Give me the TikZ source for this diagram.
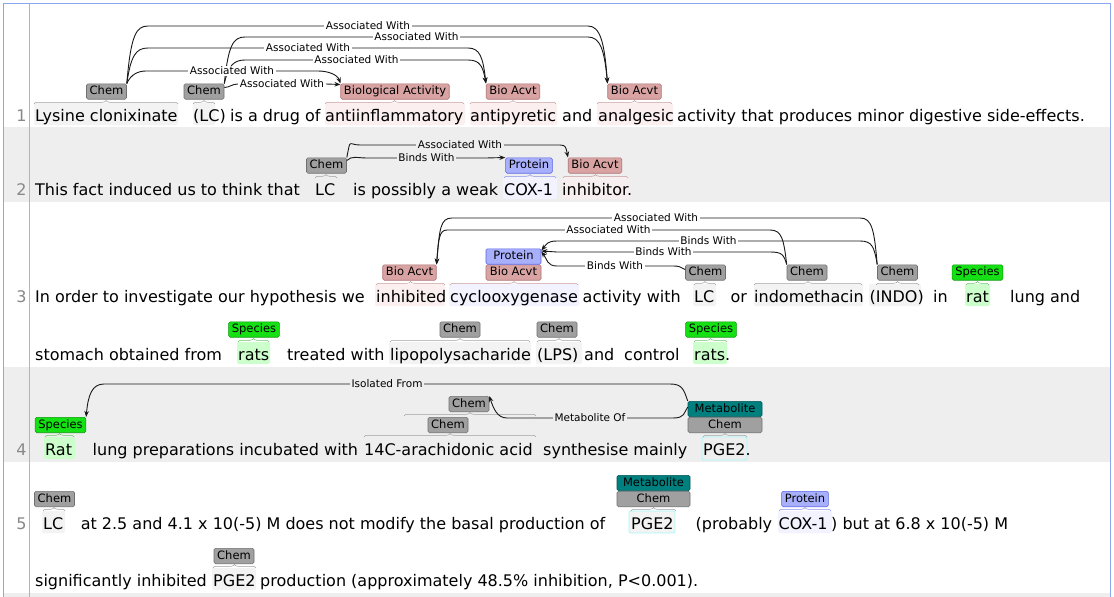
\documentclass[tikz,border=0pt]{standalone}
\usepackage{fontspec}
\setmainfont{DejaVu Sans}
\usetikzlibrary{arrows.meta,decorations.pathreplacing,positioning}

\definecolor{rowgray}{HTML}{EEEEEE}
\definecolor{framecol}{HTML}{8AA8F0}
\definecolor{sepcol}{HTML}{B4B4B4}
\definecolor{numgray}{HTML}{888888}
\definecolor{chemfill}{HTML}{A0A0A0}
\definecolor{chemline}{HTML}{707070}
\definecolor{biofill}{HTML}{D9A3A3}
\definecolor{bioline}{HTML}{B07070}
\definecolor{protfill}{HTML}{A8B0FC}
\definecolor{protline}{HTML}{5A64E6}
\definecolor{specfill}{HTML}{14E014}
\definecolor{specline}{HTML}{0A9A0A}
\definecolor{metfill}{HTML}{007F7F}
\definecolor{metline}{HTML}{005555}
\definecolor{hlchem}{HTML}{F3F3F3}
\definecolor{hlbio}{HTML}{FBEFEF}
\definecolor{hlprot}{HTML}{F2F3FF}
\definecolor{hlspec}{HTML}{CCFFCC}
\definecolor{hlmet}{HTML}{A8FAFA}

\begin{document}
\begin{tikzpicture}[x=1pt, y=-1pt,
    tok/.style={anchor=base west, inner sep=0pt, font=\fontsize{16}{19}\selectfont},
    num/.style={anchor=base, inner sep=0pt, text=numgray, font=\fontsize{16}{19}\selectfont},
    tag/.style={draw, rounded corners=1.5pt, anchor=south, inner xsep=3.2pt, inner ysep=2.2pt, text height=8.6pt, text depth=2.4pt, line width=0.6pt, font=\fontsize{11.5}{13}\selectfont},
    chem/.style={tag, fill=chemfill, draw=chemline},
    bio/.style={tag, fill=biofill, draw=bioline},
    prot/.style={tag, fill=protfill, draw=protline},
    spec/.style={tag, fill=specfill, draw=specline},
    metab/.style={tag, fill=metfill, draw=metline},
    rel/.style={draw=black!90, line width=0.9pt, -{Stealth[length=6pt,width=4.6pt]}},
    lbl/.style={fill=white, inner xsep=1.5pt, inner ysep=0.5pt, midway, font=\fontsize{10.5}{12}\selectfont},
    glbl/.style={lbl, fill=rowgray},
    crl/.style={decorate, decoration={brace, amplitude=3.5pt}, line width=0.5pt},
    span/.style={rounded corners=2pt}]

    \useasboundingbox (0,0) rectangle (1114,597);
    \fill[white] (0,0) rectangle (1114,597);

    % sentence rows
    \fill[rowgray] (3.5,127) rectangle (1110.5,202);
    \fill[rowgray] (3.5,367) rectangle (1110.5,462);
    \fill[rowgray] (3.5,593) rectangle (1110.5,597);
    \draw[framecol, line width=1pt] (3.5,597) -- (3.5,3.5) -- (1110.5,3.5) -- (1110.5,597);
    \draw[sepcol, line width=0.8pt] (29.5,3.5) -- (29.5,597);

    % span highlights
    \fill[span, hlchem] (34,103) rectangle (178,125);
    \fill[span, hlchem] (193,103) rectangle (215,125);
    \fill[span, hlbio] (325,103) rectangle (465,125);
    \fill[span, hlbio] (470,103) rectangle (557,125);
    \fill[span, hlbio] (597,103) rectangle (673,125);
    \fill[span, hlprot] (503,177) rectangle (557,199);
    \fill[span, hlbio!70!rowgray] (562,177) rectangle (629,199);
    \fill[span, hlbio] (375,284) rectangle (445,306);
    \fill[span, hlprot] (449,284) rectangle (579,306);
    \fill[span, hlchem] (693,284) rectangle (716,306);
    \fill[span, hlchem] (754,284) rectangle (863,306);
    \fill[span, hlchem] (869,284) rectangle (921,306);
    \fill[span, hlspec] (965,284) rectangle (990,306);
    \fill[span, hlspec] (237,342) rectangle (270,364);
    \fill[span, hlchem] (389,342) rectangle (531,364);
    \fill[span, hlchem] (536,342) rectangle (582,364);
    \fill[span, hlspec] (693,342) rectangle (727,364);
    \fill[span, hlspec] (44,437) rectangle (75,459);
    \filldraw[span, fill=rowgray, draw=hlmet, line width=0.8pt] (702,437) rectangle (747,460);
    \fill[span, hlchem] (42,511) rectangle (65,533);
    \filldraw[span, fill=hlchem, draw=hlmet, line width=0.8pt] (629,511) rectangle (675,533);
    \fill[span, hlprot] (778,511) rectangle (832,533);
    \fill[span, hlchem] (212,568) rectangle (256,590);

    % line numbers
    \node[num] (n1) at (21.5,121) {1};
    \node[num] (n2) at (21.5,195) {2};
    \node[num] (n3) at (21.5,302) {3};
    \node[num] (n4) at (21.5,455) {4};
    \node[num] (n5) at (21.5,529) {5};

    % sentence 1
    \node[tok] (t1a) at (35,121) {Lysine clonixinate};
    \node[tok] (t1b) at (193,121) {(LC)};
    \node[tok] (t1c) at (230,121) {is a drug of};
    \node[tok] (t1d) at (325,121) {antiinflammatory};
    \node[tok] (t1e) at (470,121) {antipyretic};
    \node[tok] (t1f) at (562,121) {and};
    \node[tok] (t1g) at (598,121) {analgesic};
    \node[tok] (t1h) at (677,121) {activity that produces minor digestive side-effects.};

    % sentence 2
    \node[tok] (t2a) at (35,195) {This fact induced us to think that};
    \node[tok] (t2b) at (315,195) {LC};
    \node[tok] (t2c) at (353,195) {is possibly a weak};
    \node[tok] (t2d) at (504,195) {COX-1};
    \node[tok] (t2e) at (562,195) {inhibitor.};

    % sentence 3
    \node[tok] (t3a) at (35,302) {In order to investigate our hypothesis we};
    \node[tok] (t3b) at (376,302) {inhibited};
    \node[tok] (t3c) at (450,302) {cyclooxygenase};
    \node[tok] (t3d) at (582.5,302) {activity with};
    \node[tok] (t3e) at (694,302) {LC};
    \node[tok] (t3f) at (730.5,302) {or};
    \node[tok] (t3g) at (754,302) {indomethacin};
    \node[tok] (t3h) at (869.5,302) {(INDO)};
    \node[tok] (t3i) at (933,302) {in};
    \node[tok] (t3j) at (966,302) {rat};
    \node[tok] (t3k) at (1010,302) {lung and};
    \node[tok] (t3l) at (35,360) {stomach obtained from};
    \node[tok] (t3m) at (238,360) {rats};
    \node[tok] (t3n) at (287,360) {treated with};
    \node[tok] (t3o) at (390,360) {lipopolysacharide};
    \node[tok] (t3p) at (537,360) {(LPS)};
    \node[tok] (t3q) at (584,360) {and};
    \node[tok] (t3r) at (624,360) {control};
    \node[tok] (t3s) at (694,360) {rats.};

    % sentence 4
    \node[tok] (t4a) at (45,455) {Rat};
    \node[tok] (t4b) at (92.5,455) {lung preparations incubated with};
    \node[tok] (t4c) at (364,455) {14C-arachidonic acid};
    \node[tok] (t4d) at (543,455) {synthesise mainly};
    \node[tok] (t4e) at (703,455) {PGE2.};

    % sentence 5
    \node[tok] (t5a) at (43,529) {LC};
    \node[tok] (t5b) at (80.6,529) {at 2.5 and 4.1 x 10(-5) M does not modify the basal production of};
    \node[tok] (t5c) at (631,529) {PGE2};
    \node[tok] (t5d) at (695.5,529) {(probably};
    \node[tok] (t5e) at (778.5,529) {COX-1};
    \node[tok] (t5f) at (831,529) {) but at 6.8 x 10(-5) M};
    \node[tok] (t5g) at (35,586) {significantly inhibited};
    \node[tok] (t5h) at (213,586) {PGE2};
    \node[tok] (t5i) at (260,586) {production (approximately 48.5\% inhibition, P<0.001).};

    % braces under the tags
    \draw[crl, chemfill] (34,104) -- (178,104);
    \draw[crl, chemfill] (193,104) -- (215,104);
    \draw[crl, bioline!70] (325,104) -- (464,104);
    \draw[crl, bioline!70] (470,104) -- (556,104);
    \draw[crl, bioline!70] (597,104) -- (672,104);
    \draw[crl, chemfill] (315,178) -- (337,178);
    \draw[crl, protline!70] (504,178) -- (556,178);
    \draw[crl, bioline!70] (563,178) -- (628,178);
    \draw[crl, bioline!70] (376,285) -- (445,285);
    \draw[crl, bioline!70] (450,285) -- (578,285);
    \draw[crl, chemfill] (694,285) -- (716,285);
    \draw[crl, chemfill] (754,285) -- (862,285);
    \draw[crl, chemfill] (876,285) -- (919,285);
    \draw[crl, specline!60] (966,285) -- (989,285);
    \draw[crl, specline!60] (238,342) -- (269,342);
    \draw[crl, chemfill] (390,342) -- (530,342);
    \draw[crl, chemfill] (537,342) -- (581,342);
    \draw[crl, specline!60] (694,342) -- (727,342);
    \draw[crl, specline!60] (45,437) -- (74,437);
    \draw[crl, chemfill] (364,437) -- (536,437);
    \draw[crl, chemfill] (404,416) -- (536,416);
    \draw[crl, chemfill] (703,437) -- (747,437);
    \draw[crl, chemfill] (43,511) -- (65,511);
    \draw[crl, chemfill] (631,511) -- (676,511);
    \draw[crl, protline!70] (779,511) -- (831,511);
    \draw[crl, chemfill] (213,568) -- (256,568);

    % tags
    \node[chem] (c1) at (106.5,99.5) {Chem};
    \node[chem] (c2) at (204,99.5) {Chem};
    \node[bio] (ba1) at (395,99.5) {Biological Activity};
    \node[bio] (ba2) at (513,99.5) {Bio Acvt};
    \node[bio] (ba3) at (634.5,99.5) {Bio Acvt};

    \node[chem] (c3) at (326.5,173.5) {Chem};
    \node[prot] (p1) at (529,173.5) {Protein};
    \node[bio] (ba4) at (595,173.5) {Bio Acvt};

    \node[bio] (ba5) at (409.5,280.5) {Bio Acvt};
    \node[bio, minimum width=55pt] (ba6) at (513.5,280.5) {Bio Acvt};
    \node[prot, minimum width=55pt, above=0pt of ba6] (pr2) {Protein};
    \node[chem] (c4) at (705.5,280.5) {Chem};
    \node[chem] (c5) at (807,280.5) {Chem};
    \node[chem] (c6) at (897.5,280.5) {Chem};
    \node[spec] (sp1) at (977.5,280.5) {Species};
    \node[spec] (sp3) at (254,337.5) {Species};
    \node[chem] (c13) at (460,337.5) {Chem};
    \node[chem] (c14) at (557,337.5) {Chem};
    \node[spec] (sp4) at (711,337.5) {Species};

    \node[spec] (sp2) at (60.5,433) {Species};
    \node[chem] (c8) at (448,433) {Chem};
    \node[chem] (c7) at (469,412) {Chem};
    \node[chem, minimum width=74pt] (c9) at (725,433) {Chem};
    \node[metab, minimum width=74pt, above=0pt of c9] (mt1) {Metabolite};

    \node[chem] (c10) at (54.5,507) {Chem};
    \node[chem, minimum width=73pt] (c11) at (653.5,507) {Chem};
    \node[metab, minimum width=73pt, above=0pt of c11] (mt2) {Metabolite};
    \node[prot] (pr3) at (805,507) {Protein};
    \node[chem] (c12) at (234,564) {Chem};

    % relations, sentence 1
    \draw[rel] (c1.north east) .. controls +(4,-48) and +(-12,0) .. (148,26) -- node[lbl] {Associated With} (588,26) .. controls +(12,0) and +(-3,-42) .. (ba3.north west);
    \draw[rel] (c2.north east) .. controls +(4,-38) and +(-12,0) .. (245,37) -- node[lbl] {Associated With} (588,37) .. controls +(12,0) and +(-3,-34) .. (ba3.north west);
    \draw[rel] (c1.north east) .. controls +(4,-28) and +(-12,0) .. (148,48) -- node[lbl] {Associated With} (468,48) .. controls +(12,0) and +(-3,-26) .. (ba2.north west);
    \draw[rel] (c2.north east) .. controls +(4,-17) and +(-12,0) .. (245,60) -- node[lbl] {Associated With} (468,60) .. controls +(12,0) and +(-3,-17) .. (ba2.north west);
    \draw[rel] (c1.north east) .. controls +(4,-9) and +(-8,0) .. (146,71) -- node[lbl] {Associated With} (318,71) .. controls +(10,0) and +(-3,-9) .. (ba1.north west);
    \draw[rel] ([yshift=-4pt]c2.north east) .. controls +(5,0) and +(-6,0) .. (238,84) -- node[lbl] {Associated With} (326,84) -- ([yshift=-1pt]ba1.north west);

    % relations, sentence 2
    \draw[rel] (c3.north east) .. controls +(4,-20) and +(-12,0) .. (360,145) -- node[glbl] {Associated With} (560,145) .. controls +(6,0) and +(-2,-10) .. (ba4.north west);
    \draw[rel] ([yshift=-3pt]c3.north east) .. controls +(5,-5) and +(-10,0) .. (367,158) -- node[glbl] {Binds With} (486,158) -- (p1.north west);

    % relations, sentence 3
    \draw[rel] (c6.north west) .. controls +(-3,-35) and +(12,0) .. (860,218) -- node[lbl] {Associated With} (452,218) .. controls +(-12,0) and +(3,-35) .. (ba5.north east);
    \draw[rel] (c5.north west) .. controls +(-3,-25) and +(12,0) .. (770,230) -- node[lbl] {Associated With} (447,230) .. controls +(-8,0) and +(2,-25) .. (ba5.north east);
    \draw[rel] (c6.north west) .. controls +(-3,-18) and +(12,0) .. (860,241) -- node[lbl] {Binds With} (557,241) .. controls +(-10,0) and +(5,-6) .. ([yshift=-2pt]pr2.north east);
    \draw[rel] (c5.north west) .. controls +(-3,-10) and +(12,0) .. (770,252) -- node[lbl] {Binds With} (557,252) -- ([yshift=-2.5pt]pr2.north east);
    \draw[rel] ([yshift=-5pt]c4.north west) .. controls +(-6,-3) and +(6,0) .. (673,266) -- node[lbl] {Binds With} (557,266) .. controls +(-10,0) and +(6,8) .. ([yshift=-3pt]pr2.north east);

    % relations, sentence 4
    \draw[rel] (mt1.north west) .. controls +(-4,-12) and +(12,0) .. (670,384) -- node[glbl] {Isolated From} (104,384) .. controls +(-12,0) and +(2,-22) .. (sp2.north east);
    \draw[rel] ([yshift=-6pt]mt1.north west) .. controls +(-4,6) and +(12,0) .. (673,418) -- node[glbl] {Metabolite Of} (507,418) .. controls +(-10,0) and +(4,12) .. (c7.north east);

\end{tikzpicture}
\end{document}
